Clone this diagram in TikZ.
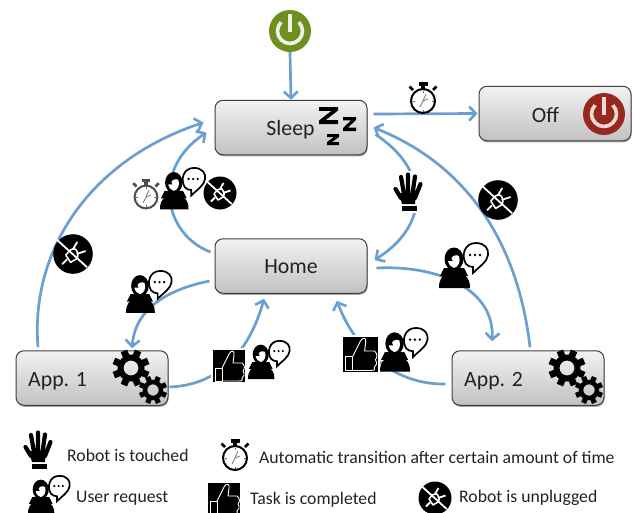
\documentclass[tikz,border=0pt]{standalone}
\usepackage{fontspec}
\setmainfont{Carlito}
\usetikzlibrary{arrows.meta,shadows}
\definecolor{flowblue}{HTML}{6A9FD0}
\definecolor{powgreen}{HTML}{6E8F1E}
\definecolor{powred}{HTML}{96281E}
\definecolor{txt}{HTML}{222222}
\tikzset{
  statebox/.style={draw=black!75,line width=1pt,rounded corners=8pt,minimum width=152pt,minimum height=54.5pt,inner sep=0pt,
    top color=black!5,bottom color=black!24,drop shadow={shadow xshift=.6pt,shadow yshift=-1.6pt,opacity=.35,fill=black}},
  boxlabel/.style={font=\fontsize{21.8}{24}\selectfont,text=txt,inner sep=0pt},
  legendlabel/.style={font=\fontsize{17.7}{20}\selectfont,text=txt,inner sep=0pt,anchor=west},
  flow/.style={draw=flowblue,line width=2.7pt,-{Straight Barb[length=6.5pt,width=14pt,line width=2.6pt]}},
  powerdot/.style={circle,minimum size=42pt,inner sep=0pt},
  person/.pic={
    \fill (0,46) .. controls (0,36) and (4,33) .. (9,31) -- (21,31) .. controls (27,33) and (31,36) .. (31,46) -- cycle;
    \fill (15,17) ellipse[x radius=9.5,y radius=11.5];
    \fill (5,26) -- (25,26) -- (29,34) -- (1,34) -- cycle;
    \fill[white] (14,19) .. controls (9,14) and (18,12) .. (20,14) .. controls (22,20) and (19,25) .. (15,26) .. controls (12,25) and (10,23) .. (9,19) -- cycle;
    \filldraw[fill=white,draw=black,line width=1.7pt] (27,22) .. controls (22,14) and (25,1) .. (37,1)
      .. controls (46,1) and (50,7) .. (49,13) .. controls (48,20) and (41,24) .. (34,31) -- (34,25) .. controls (31,25) and (29,24) .. (27,22) -- cycle;
    \foreach \k in {31,36,41} \fill (\k,13) circle[radius=1.4];
  },
  clock/.pic={
    \filldraw[fill=white,draw=#1,line width=2pt] (0,0) circle[radius=12];
    \fill[#1] (-4.5,-19) rectangle (4.5,-15.5);
    \fill[#1] (-1.8,-15.5) rectangle (1.8,-12);
    \draw[#1,line width=2.6pt] (-13.5,-14.5) -- (-10,-11) (13.5,-14.5) -- (10,-11);
    \foreach \a in {0,90,180,270} \draw[black!60,line width=.7pt,rotate=\a] (0,-10.5) -- (0,-8.5);
    \draw[black!50,line width=.9pt] (-3,6) -- (0,0) -- (3,-7);
    \draw[black!50,line width=.9pt] (0,0) -- (5,-2);
  },
  clock/.default=black,
  hand/.pic={
    \fill[white] (-2,-1) rectangle (31,41);
    \fill (6,21) -- (23,21) -- (22,32) -- (9,32) -- cycle;
    \draw[line width=4.2pt,line cap=round] (2.5,17) -- (8,26) (8,5) -- (11,22) (15,2.5) -- (15,22) (22,4.5) -- (19.5,22) (27.5,12) -- (22,26);
    \fill (9,33.5) rectangle (24,39);
  },
  thumb/.pic={
    \fill[white] (-2,-2) rectangle (34,34);
    \fill (0,0) rectangle (32,32);
    \draw[white,line width=.9pt,line join=round] (2,18) rectangle (9,31);
    \draw[white,line width=.9pt,line join=round] (9,18) -- (16,4) .. controls (18,0) and (22,0) .. (21,5) -- (20,13) -- (29,13)
      .. controls (32,15) and (32,19) .. (30,21) .. controls (32,24) and (31,27) .. (29,28) .. controls (30,31) and (28,31) .. (26,31) -- (9,31);
  },
  unplug/.pic={
    \fill (0,0) circle[radius=16.5];
    \draw[white,line width=1.8pt] (-14,-12.4) -- (11.7,11);
    \draw[white,line width=1.8pt] (-9,8.5) -- (-5,4.5);
    \draw[white,line width=1.6pt,line join=round] (-6,1) -- (-2,7) -- (3,4) .. controls (5,1) and (4,-2) .. (2,-4) .. controls (-1,-5) and (-3,-3) .. (-6,1);
    \draw[white,line width=1.8pt] (0,-4) -- (3.5,-10) (3,0) -- (10.5,-2.5);
  },
  gears/.pic={
    \foreach \g/\s/\p in {0/1/{(0,0)},1/.76/{(22,22)}} {
      \begin{scope}[shift={\p},scale=\s]
        \fill[even odd rule] (0,0) circle[radius=13.5] circle[radius=7.5];
        \foreach \a in {0,45,...,315} \fill[rotate=\a+22.5] (-3.4,-18.5) rectangle (3.4,-12.5);
      \end{scope}
    }
  },
  zzz/.pic={
    \fill (0,0) -- (19,0) -- (19,3.5) -- (6.5,13.2) -- (19,13.2) -- (19,17) -- (0,17) -- (0,13.5) -- (12.5,3.8) -- (0,3.8) -- cycle;
    \fill (24,10) -- (37,10) -- (37,13) -- (29,20.5) -- (37,20.5) -- (37,24) -- (24,24) -- (24,21) -- (32,13.4) -- (24,13.4) -- cycle;
    \fill (8,27) -- (20,27) -- (20,30) -- (13,35) -- (20,35) -- (20,38) -- (8,38) -- (8,35) -- (15,30) -- (8,30) -- cycle;
  },
}
\begin{document}
\begin{tikzpicture}[x=1pt,y=-1pt]
\useasboundingbox (0,0) rectangle (635,512);
% boxes
\node[statebox] (sleep) at (291,127.5) {};
\node[statebox] (home) at (291,266) {};
\node[statebox] (app1) at (92,378) {};
\node[statebox] (app2) at (528,378) {};
\node[statebox] (off) at (555,113.5) {};
\node[powerdot,fill=powgreen] (on) at (290,31) {};
\node[powerdot,fill=powred] (offbtn) at (604,114) {};
\draw[white!88!powgreen,line width=3.6pt] ([shift={(8.84,-8.84)}]on.center) arc[start angle=-45,end angle=225,radius=12.5];
\draw[white!88!powgreen,line width=3.6pt] ([shift={(0,-17)}]on.center) -- ([shift={(0,1)}]on.center);
\draw[white!82!powred,line width=3.6pt] ([shift={(8.84,-8.84)}]offbtn.center) arc[start angle=-45,end angle=225,radius=12.5];
\draw[white!82!powred,line width=3.6pt] ([shift={(0,-17)}]offbtn.center) -- ([shift={(0,1)}]offbtn.center);
% box labels
\node[boxlabel] (sleeptext) at (290.5,130) {Sleep};
\node[boxlabel] (hometext) at (291,267) {Home};
\node[boxlabel,anchor=west] (app1text) at (28,381) {App. 1};
\node[boxlabel,anchor=west] (app2text) at (464,381) {App. 2};
\node[boxlabel] (offtext) at (545.5,115) {Off};
% connectors
\draw[flow] (on.south) -- (sleep.north);
\draw[flow] ([shift={(6,-13.5)}]sleep.east) -- ([xshift=-1pt]off.west);
\draw[flow] ([shift={(-4,-14)}]home.west) .. controls (165,235) and (150,170) .. ([shift={(-8,5)}]sleep.west);
\draw[flow] ([shift={(-54,-3)}]app1.north) .. controls (30,250) and (90,160) .. ([shift={(-11,-5)}]sleep.west);
\draw[flow] ([shift={(8,7)}]sleep.east) .. controls (430,170) and (430,225) .. ([shift={(7,-6)}]home.east);
\draw[flow] ([shift={(2,-3)}]app2.north) .. controls (520,260) and (480,170) .. ([shift={(6,0)}]sleep.east);
\draw[flow] ([shift={(9,2)}]home.east) .. controls (440,265) and (495,290) .. ([shift={(-36,-9)}]app2.north);
\draw[flow] ([shift={(-6,6)}]app2.west) .. controls (395,385) and (355,350) .. ([shift={(46,7)}]home.south);
\draw[flow] ([shift={(1,9)}]app1.east) .. controls (220,385) and (250,350) .. ([shift={(-27,5)}]home.south);
\draw[flow] ([shift={(-5,15)}]home.west) .. controls (165,290) and (135,310) .. ([shift={(40,-2)}]app1.north);
% decorations on boxes
\pic (zsleep) at (319,107) {zzz};
\pic (gearsa) at (131,368) {gears};
\pic (gearsb) at (567,368) {gears};
% icons on connectors
\pic (clockoff) at (423,101) {clock};
\pic[scale=.95] (clockhome) at (146,197) {clock=black!70};
\pic[scale=.92] (personhome) at (160,167) {person};
\pic (unplughome) at (220,193) {unplug};
\pic (handedge) at (393,172) {hand};
\pic[scale=1] (personapptwo) at (439,242) {person};
\pic[scale=1.2] (unplugone) at (73,254) {unplug};
\pic[scale=1.2] (unplugtwo) at (498,200) {unplug};
\pic[scale=.93] (personappone) at (126,270) {person};
\pic (thumbone) at (213,350) {thumb};
\pic[scale=.85] (persondoneone) at (248,340) {person};
\pic[scale=1.08] (thumbtwo) at (343,337) {thumb};
\pic[scale=.97] (persondonetwo) at (380,327) {person};
% legend
\pic (handleg) at (23,430) {hand};
\node[legendlabel] (legtouch) at (67,455) {Robot is touched};
\pic (clockleg) at (235,458) {clock};
\node[legendlabel] (legauto) at (259,457) {Automatic transition after certain amount of time};
\pic[scale=.85] (personleg) at (28,475) {person};
\node[legendlabel] (legreq) at (76,498) {User request};
\pic (thumbleg) at (208,483) {thumb};
\node[legendlabel] (legtask) at (250,500) {Task is completed};
\pic (unplugleg) at (435,498) {unplug};
\node[legendlabel] (legunplug) at (459,498) {Robot is unplugged};
\end{tikzpicture}
\end{document}
